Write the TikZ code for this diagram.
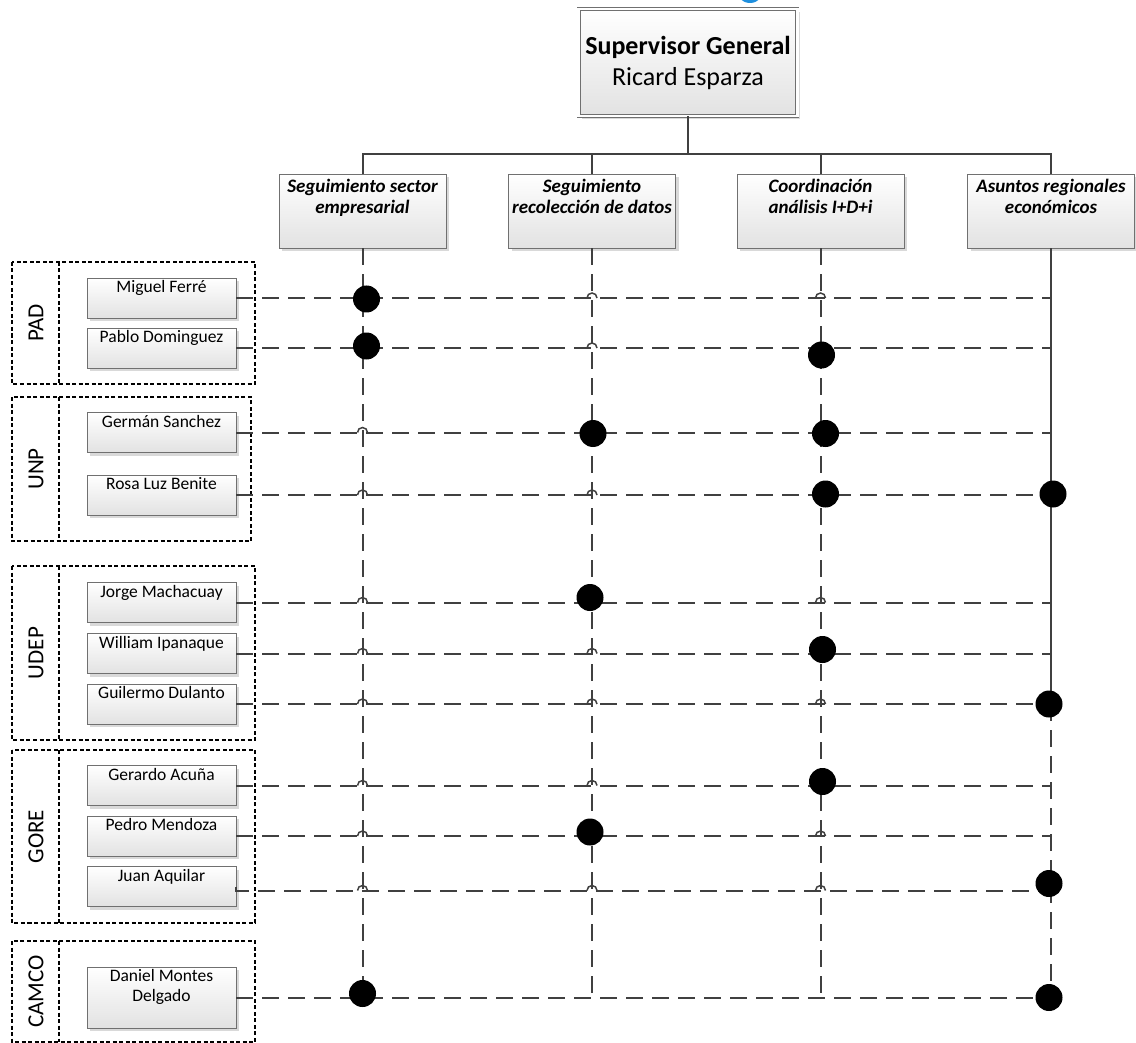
\documentclass[tikz,border=0pt]{standalone}
\usepackage{fontspec}
\setmainfont{Carlito}
\usetikzlibrary{shadows}

\definecolor{linegray}{HTML}{404040}
\definecolor{edgegray}{HTML}{707070}
\definecolor{cardgray}{HTML}{E2E2E2}
\definecolor{markblue}{HTML}{1F8FDE}

\begin{document}
\begin{tikzpicture}[x=1pt, y=-1pt,
  card/.style={draw=edgegray, line width=0.9pt, top color=white, bottom color=cardgray, inner sep=0pt,
    drop shadow={shadow xshift=3pt, shadow yshift=-3pt, fill=black!15, opacity=1}},
  supbox/.style={card, double=white, double distance=2.6pt, minimum width=218.5pt, minimum height=107pt,
    align=center, font=\fontsize{26}{31}\selectfont},
  areabox/.style={card, minimum width=167pt, minimum height=74pt, font=\fontsize{19}{21}\selectfont\bfseries\itshape},
  namebox/.style={card, minimum width=149pt, minimum height=40pt, font=\fontsize{17.5}{20}\selectfont},
  groupframe/.style={draw=black, line width=1.2pt, dash pattern=on 4pt off 2.5pt},
  grouplabel/.style={rotate=90, inner sep=0pt, font=\fontsize{23}{26}\selectfont},
  trunkline/.style={draw=linegray, line width=2pt},
  linkline/.style={draw=linegray, line width=2pt, dash pattern=on 17pt off 9pt},
  hopline/.style={draw=linegray, line width=1.5pt},
  bigdot/.style={fill=black}]

\def\nm#1{\parbox[t][35pt][t]{149pt}{\centering #1}}
\def\ar#1{\parbox[t][64pt][t]{167pt}{\centering #1}}

\useasboundingbox (0,0) rectangle (1136,1043);

\fill[markblue] (750,-11) circle (14);

% groups
\draw[groupframe] (12,262) rectangle (255,384);
\draw[groupframe] (59,262) -- (59,384);
\node[grouplabel] (pad) at (36,323) {PAD};
\draw[groupframe] (12,397) rectangle (251,541);
\draw[groupframe] (59,397) -- (59,541);
\node[grouplabel] (unp) at (36,469) {UNP};
\draw[groupframe] (12,566) rectangle (255,740);
\draw[groupframe] (59,566) -- (59,740);
\node[grouplabel] (udep) at (36,653) {UDEP};
\draw[groupframe] (12,750) rectangle (255,923);
\draw[groupframe] (59,750) -- (59,923);
\node[grouplabel] (gore) at (36,836.5) {GORE};
\draw[groupframe] (12,941) rectangle (255,1042);
\draw[groupframe] (59,941) -- (59,1042);
\node[grouplabel] (camco) at (36,991.5) {CAMCO};

% boxes
\node[supbox] (sup) at (688,62.5) {\textbf{Supervisor General}\\Ricard Esparza};

\node[areabox] (seg) at (362.5,211) {\ar{Seguimiento sector\\empresarial}};
\node[areabox] (rec) at (592,211) {\ar{Seguimiento\\recolección de datos}};
\node[areabox] (coo) at (820.5,211) {\ar{Coordinación\\análisis I+D+i}};
\node[areabox] (asu) at (1051,211) {\ar{Asuntos regionales\\económicos}};

\node[namebox] (miguel) at (161.5,298) {\nm{Miguel Ferré}};
\node[namebox] (pablo) at (161.5,348) {\nm{Pablo Dominguez}};
\node[namebox] (german) at (161.5,432.5) {\nm{Germán Sanchez}};
\node[namebox] (rosa) at (161.5,495) {\nm{Rosa Luz Benite}};
\node[namebox] (jorge) at (161.5,602.5) {\nm{Jorge Machacuay}};
\node[namebox] (william) at (161.5,653.5) {\nm{William Ipanaque}};
\node[namebox] (guilermo) at (161.5,704) {\nm{Guilermo Dulanto}};
\node[namebox] (gerardo) at (161.5,785.5) {\nm{Gerardo Acuña}};
\node[namebox] (pedro) at (161.5,836) {\nm{Pedro Mendoza}};
\node[namebox] (juan) at (161.5,886.5) {\nm{Juan Aquilar}};
\node[namebox, minimum height=61pt] (daniel) at (161.5,997.5)
  {\parbox[t][56pt][t]{149pt}{\centering Daniel Montes\\Delgado}};

% tree
\draw[trunkline] (sup.south) -- ++(0,38) coordinate (hub);
\draw[trunkline] (seg.north) |- (hub) -| (asu.north);
\draw[trunkline] (rec.north) -- (rec.north |- hub);
\draw[trunkline] (coo.north) -- (coo.north |- hub);

\draw[linkline] (seg.south) -- (seg.south |- daniel.east);
\draw[linkline] (rec.south) -- (rec.south |- daniel.east);
\draw[linkline] (coo.south) -- (coo.south |- daniel.east);
\draw[trunkline] (asu.south) -- (asu.south |- guilermo.east);
\draw[linkline] (asu.south |- guilermo.east) -- (asu.south |- daniel.east);

% rows
\draw[linkline] (miguel.east) -- (miguel.east -| asu);
\draw[linkline] (pablo.east) -- (pablo.east -| asu);
\draw[linkline] (german.east) -- (german.east -| asu);
\draw[linkline] (rosa.east) -- (rosa.east -| asu);
\draw[linkline] (jorge.east) -- (jorge.east -| asu);
\draw[linkline] (william.east) -- (william.east -| asu);
\draw[linkline] (guilermo.east) -- (guilermo.east -| asu);
\draw[linkline] (gerardo.east) -- (gerardo.east -| asu);
\draw[linkline] (pedro.east) -- (pedro.east -| asu);
\draw[linkline] (juan.east) -- ++(0,4) coordinate (jl) -- (jl -| asu);
\draw[linkline] (daniel.east) -- (daniel.east -| asu);

\foreach \r/\c in {miguel/rec, miguel/coo, pablo/rec, german/seg, rosa/seg, rosa/rec,
    jorge/seg, jorge/coo, william/seg, william/rec, guilermo/seg, guilermo/rec, guilermo/coo,
    gerardo/seg, gerardo/rec, pedro/seg, pedro/coo}
  \draw[hopline] (\r.east -| \c) ++(-5,0) arc (180:360:5);
\foreach \c in {seg, rec, coo}
  \draw[hopline] (jl -| \c) ++(-5,0) arc (180:360:5);

\foreach \r/\c/\dx/\dy in {miguel/seg/4/1, pablo/seg/4/-2, pablo/coo/1/7, german/rec/1/1,
    german/coo/5/1, rosa/coo/5/-1, rosa/asu/2/-1, jorge/rec/-2/-5, william/coo/2/-4,
    guilermo/asu/-2/0, gerardo/coo/2/-4, pedro/rec/-2/-4, juan/asu/-2/-3,
    daniel/seg/0/-4, daniel/asu/-2/0}
  \fill[bigdot] (\r.east -| \c) ++(\dx,\dy) circle (13.5);
\end{tikzpicture}
\end{document}
